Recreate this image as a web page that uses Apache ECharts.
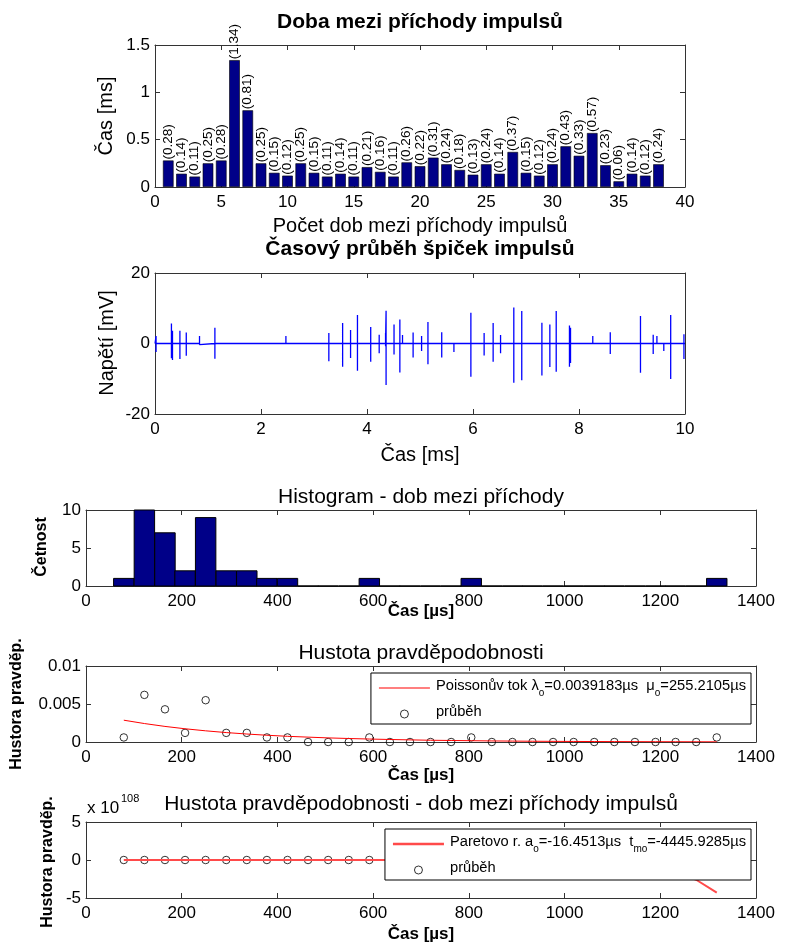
<!DOCTYPE html>
<html>
<head>
<meta charset="utf-8">
<script src="https://cdn.jsdelivr.net/npm/echarts@6/dist/echarts.min.js"></script>
<style>
html,body{margin:0;padding:0;background:#fff;}
#chart{width:786px;height:945px;}
</style>
</head>
<body>
<div id="chart"></div>
<script>
// Inter-arrival times between pulses [ms], one per pulse pair
const gapTimes = [0.28,0.14,0.11,0.25,0.28,1.34,0.81,0.25,0.15,0.12,0.25,0.15,0.11,0.14,0.11,0.21,0.16,0.11,0.26,0.22,
                  0.31,0.24,0.18,0.13,0.24,0.14,0.37,0.15,0.12,0.24,0.43,0.33,0.57,0.23,0.06,0.14,0.12,0.24];

// Pulse peaks: time [ms], positive and negative excursion [mV]
const spikeTimes = [0.02,0.31,0.33,0.47,0.59,0.84,1.13,2.47,3.28,3.54,3.69,3.82,4.07,4.23,4.35,4.36,4.51,4.62,4.67,4.87,
                    5.03,5.15,5.41,5.64,5.96,6.21,6.38,6.52,6.77,6.92,7.30,7.45,7.57,7.82,7.84,8.26,8.59,9.16,9.40,9.47,
                    9.60,9.73,9.98];
const spikeHigh  = [2.1,5.7,3.6,3.6,3.1,2.1,4.5,2.1,3.0,5.8,3.8,8.1,4.7,2.5,3.0,9.3,5.4,6.8,2.4,3.1,
                    2.1,6.1,3.2,0.0,8.7,3.0,5.8,2.4,10.2,9.2,5.9,5.4,9.2,5.1,4.5,2.1,3.2,7.8,2.5,2.1,
                    0.0,8.1,2.6];
const spikeLow   = [-2.4,-4.2,-4.7,-4.4,-3.5,-0.3,-4.3,0.0,-5.0,-6.6,-4.1,-7.7,-5.2,-2.8,-0.8,-11.8,-3.1,-8.2,0.0,-4.0,
                    -2.1,-5.9,-4.0,-2.4,-9.4,-3.4,-5.2,-2.8,-11.1,-10.4,-9.1,-6.7,-8.0,-6.6,-5.5,0.0,-3.0,-8.3,-3.0,0.0,
                    -2.1,-10.1,-4.4];

// Histogram bins of the inter-arrival times [µs]
const binCenters = [79,122,165,207,250,293,336,378,421,464,506,549,592,635,677,720,763,805,848,891,
                    933,976,1019,1062,1104,1147,1190,1232,1275,1318];
const binWidth = 42.7;
const histCounts = [1,10,7,2,9,2,2,1,1,0,0,0,1,0,0,0,0,1,0,0,0,0,0,0,0,0,0,0,0,1];

// Probability density: measured and Poisson (exponential) fit
const densityMeasured = [0.0006,0.0062,0.0043,0.0012,0.0055,0.0012,0.0012,0.0006,0.0006,0,0,0,0.0006,0,0,0,0,0.0006,0,0,
                         0,0,0,0,0,0,0,0,0,0.0006];
const poissonFit = [0.00287,0.00243,0.00205,0.00174,0.00147,0.00124,0.00105,0.00089,0.00075,0.00064,
                    0.00054,0.00046,0.00039,0.00033,0.00028,0.00023,0.00020,0.00017,0.00014,0.00012,
                    0.00010,0.000085,0.000072,0.000061,0.000052,0.000044,0.000037,0.000031,0.000027,0.000022];

// Pareto fit, values in units of 1e108
const paretoMeasured = [0,0,0,0,0,0,0,0,0,0,0,0,0,0,0,0,0,0,0,0,0,0,0,0,0,0,0,0,0,0];
const paretoFit = [0,0,0,0,0,0,0,0,0,0,0,0,0,0,0,0,0,0,0,0,
                   -0.02,-0.04,-0.08,-0.15,-0.28,-0.5,-0.89,-1.54,-2.6,-4.3];

const FONT = '"Liberation Sans", Arial, Helvetica, sans-serif';
const AXC = '#333';
const NAVY = '#000088';

const grids = [
  {left:155, top:45,  width:530, height:142},
  {left:155, top:273, width:530, height:141},
  {left:86,  top:510, width:670, height:76},
  {left:86,  top:666, width:670, height:76},
  {left:86,  top:822, width:670, height:76}
];

const xRanges = [[0,40,5],[0,10,2],[0,1400,200],[0,1400,200],[0,1400,200]];
const yRanges = [[0,1.5,0.5],[-20,20,20],[0,10,5],[0,0.01,0.005],[-5,5,5]];

function makeAxis(kind, gi, r, mirror) {
  return {
    type:'value', gridIndex:gi, min:r[0], max:r[1], interval:r[2],
    position: kind === 'x' ? (mirror ? 'top' : 'bottom') : (mirror ? 'right' : 'left'),
    axisLine:{show:true, onZero:false, lineStyle:{color:AXC, width:1}},
    axisTick:{show:true, inside:true, length:5, lineStyle:{color:AXC, width:1}},
    splitLine:{show:false},
    axisLabel:{show:!mirror, color:'#000', fontSize:17, fontFamily:FONT, margin: kind === 'x' ? 7 : 5,
               formatter: v => String(+v.toPrecision(10))}
  };
}

const xAxes = [], yAxes = [];
grids.forEach((g, i) => {
  xAxes.push(makeAxis('x', i, xRanges[i], false), makeAxis('x', i, xRanges[i], true));
  yAxes.push(makeAxis('y', i, yRanges[i], false), makeAxis('y', i, yRanges[i], true));
});

// Spike trace: flat baseline with a vertical stroke at every pulse
const trace = [[0, 0]];
spikeTimes.forEach((t, i) => {
  trace.push([t, 0], [t, spikeHigh[i]], [t, spikeLow[i]], [t, 0]);
});
trace.push([10, 0]);

const histData = binCenters.map((c, i) => [c - binWidth / 2, c + binWidth / 2, histCounts[i]]);

const circleStyle = {color:'rgba(0,0,0,0)', borderColor:'#000', borderWidth:1};

const legendNames = {
  'Poissonův tok': '{n|Poissonův tok λ}{s|o}{n|=0.0039183µs  μ}{s|o}{n|=255.2105µs}',
  'Paretovo r.': '{n|Paretovo r. a}{s|o}{n|=-16.4513µs  t}{s|mo}{n|=-4445.9285µs}',
  'průběh': '{n|průběh}'
};
const legendText = {
  color:'#000', fontFamily:FONT, fontSize:14.7, padding:[0,0,0,1],
  rich:{
    n:{fontFamily:FONT, fontSize:14.7, color:'#000', lineHeight:20, verticalAlign:'top'},
    s:{fontFamily:FONT, fontSize:10, color:'#000', lineHeight:10, verticalAlign:'bottom'}
  }
};
function legendFor(lineName, linePath, lineColor, top) {
  return {
    data:[
      {name:lineName, icon:linePath, itemStyle:{color:lineColor, borderWidth:0}},
      {name:'průběh', icon:'circle', itemStyle:{color:'rgba(0,0,0,0)', borderColor:'#000', borderWidth:1}}
    ],
    orient:'vertical', right:35, top:top,
    backgroundColor:'#fff', borderColor:'#000', borderWidth:1, borderRadius:0,
    padding:[5,5,5,8], itemGap:6, itemWidth:51, itemHeight:8,
    selectedMode:false, textStyle:legendText,
    formatter: n => legendNames[n]
  };
}

const labelTexts = [
  {t:'Doba mezi příchody impulsů', x:420, y:22, f:'bold 21px'},
  {t:'Počet dob mezi příchody impulsů', x:420, y:226, f:'20px'},
  {t:'Čas [ms]', x:106, y:116, f:'20px', r:1},
  {t:'Časový průběh špiček impulsů', x:420, y:249, f:'bold 21px'},
  {t:'Napětí [mV]', x:107, y:343, f:'20px', r:1},
  {t:'Čas [ms]', x:420, y:455, f:'20px'},
  {t:'Histogram - dob mezi příchody', x:421, y:497, f:'21px'},
  {t:'Četnost', x:42, y:547, f:'bold 16px', r:1},
  {t:'Čas [µs]', x:421, y:611, f:'bold 17px'},
  {t:'Hustota pravděpodobnosti', x:421, y:653, f:'21px'},
  {t:'Hustora pravděp.', x:17, y:704, f:'bold 16px', r:1},
  {t:'Čas [µs]', x:421, y:775, f:'bold 17px'},
  {t:'Hustota pravděpodobnosti - dob mezi příchody impulsů', x:421, y:804, f:'21px'},
  {t:'Hustora pravděp.', x:48, y:862, f:'bold 16px', r:1},
  {t:'Čas [µs]', x:421, y:934, f:'bold 17px'},
  {t:'x 10', x:87, y:808, f:'17px', a:'left'},
  {t:'108', x:121, y:799, f:'11px', a:'left'}
];
const graphics = labelTexts.map(o => ({
  type:'text', x:o.x, y:o.y, rotation: o.r ? Math.PI / 2 : 0, silent:true, z:10,
  style:{text:o.t, font:o.f + ' ' + FONT, fill:'#000', align:o.a || 'center', verticalAlign:'middle'}
}));

const option = {
  animation:false,
  backgroundColor:'#fff',
  grid: grids.map(g => Object.assign({containLabel:false, outerBoundsMode:'none'}, g)),
  xAxis: xAxes,
  yAxis: yAxes,
  legend: [
    legendFor('Poissonův tok', 'path://M0,0h100v2.2h-100z', '#ff0000', 673),
    legendFor('Paretovo r.', 'path://M0,0h100v4.5h-100z', '#ff4a4a', 829)
  ],
  graphic: graphics,
  series: [
    {
      type:'bar', xAxisIndex:0, yAxisIndex:0, barWidth:10.6,
      data: gapTimes.map((v, i) => [i + 1, v]),
      itemStyle:{color:NAVY, borderColor:'#000', borderWidth:0.6},
      label:{show:true, position:'top', rotate:90, align:'left', verticalAlign:'middle', distance:1,
             fontSize:13.5, fontFamily:FONT, color:'#000',
             formatter: p => '(' + p.value[1].toFixed(2) + ')'}
    },
    {
      type:'line', xAxisIndex:2, yAxisIndex:2, data:trace, symbol:'none',
      lineStyle:{color:'#0000ff', width:1.3}
    },
    {
      type:'custom', xAxisIndex:4, yAxisIndex:4, data:histData,
      renderItem:(params, api) => {
        const p0 = api.coord([api.value(0), 0]);
        const p1 = api.coord([api.value(1), api.value(2)]);
        return {type:'rect', shape:{x:p0[0], y:p1[1], width:p1[0] - p0[0], height:p0[1] - p1[1]},
                style:{fill:NAVY, stroke:'#000', lineWidth:1}};
      }
    },
    {
      name:'Poissonův tok', type:'line', xAxisIndex:6, yAxisIndex:6, symbol:'none',
      data: binCenters.map((c, i) => [c, poissonFit[i]]),
      lineStyle:{color:'#ff0000', width:1}, itemStyle:{color:'#ff0000'}
    },
    {
      name:'průběh', type:'scatter', xAxisIndex:6, yAxisIndex:6, symbol:'circle', symbolSize:7.5,
      data: binCenters.map((c, i) => [c, densityMeasured[i]]),
      itemStyle:circleStyle
    },
    {
      name:'Paretovo r.', type:'line', xAxisIndex:8, yAxisIndex:8, symbol:'none',
      data: binCenters.map((c, i) => [c, paretoFit[i]]),
      lineStyle:{color:'#ff4a4a', width:2}, itemStyle:{color:'#ff4a4a'}
    },
    {
      name:'průběh', type:'scatter', xAxisIndex:8, yAxisIndex:8, symbol:'circle', symbolSize:7.5,
      data: binCenters.map((c, i) => [c, paretoMeasured[i]]),
      itemStyle:circleStyle
    }
  ]
};

const chart = echarts.init(document.getElementById('chart'), null, {renderer:'canvas'});
chart.setOption(option);
</script>
</body>
</html>
